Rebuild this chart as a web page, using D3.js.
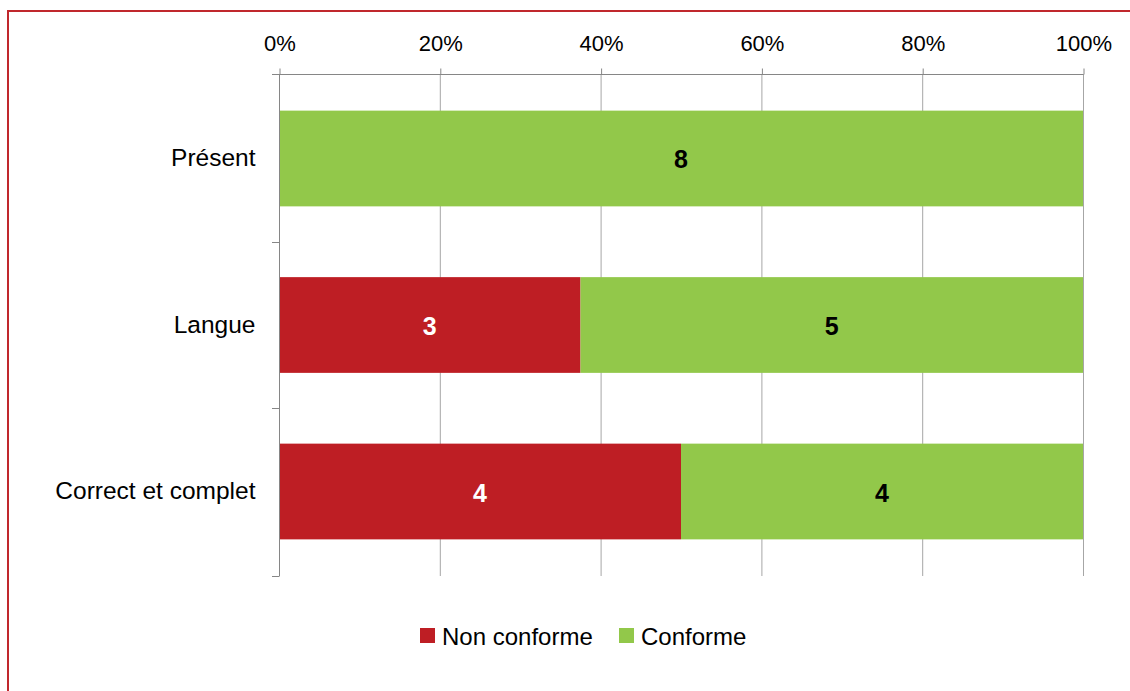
<!DOCTYPE html>
<html><head><meta charset="utf-8">
<script src="https://cdn.jsdelivr.net/npm/d3@7"></script>
<style>body{margin:0;background:#fff;}svg{display:block;}</style>
</head><body>
<script>
const categories = ["Présent", "Langue", "Correct et complet"];
const seriesNames = ["Non conforme", "Conforme"];
const nonConforme = [0, 3, 4];
const conforme = [8, 5, 4];
const tickValues = [0, 0.2, 0.4, 0.6, 0.8, 1.0];
const colors = ["#BE1E24", "#92C84A"];
const labelColors = ["#ffffff", "#000000"];

(function () {
const W = 1130, H = 691;
const svg = d3.select("body").append("svg").attr("width", W).attr("height", H);
const font = "'Liberation Sans', Arial, sans-serif";

// frame border
svg.append("rect").attr("x", 8).attr("y", 11).attr("width", W).attr("height", H)
  .attr("fill", "none").attr("stroke", "#C0282D").attr("stroke-width", 2);

const pLeft = 279, pRight = 1083, pTop = 74, pBottom = 576;
const x = d3.scaleLinear().domain([0, 1]).range([pLeft, pRight]);
const y = d3.scaleBand().domain(categories).range([pTop, pBottom]).paddingInner(0.425).paddingOuter(0.22);

const data = categories.map((c, i) => ({cat: c, "Non conforme": nonConforme[i], "Conforme": conforme[i]}));
const stack = d3.stack().keys(seriesNames).offset(d3.stackOffsetExpand);
const series = stack(data);

// gridlines
svg.append("g").selectAll("line").data(tickValues.slice(1)).join("line")
  .attr("x1", d => x(d) + 0.5).attr("x2", d => x(d) + 0.5)
  .attr("y1", pTop).attr("y2", pBottom)
  .attr("stroke", "#A6A6A6").attr("stroke-width", 1);

// bars
series.forEach((s, si) => {
  const g = svg.append("g");
  g.selectAll("rect").data(s).join("rect")
    .attr("x", d => x(d[0])).attr("width", d => x(d[1]) - x(d[0]))
    .attr("y", d => y(d.data.cat)).attr("height", y.bandwidth())
    .attr("fill", colors[si]);
  g.selectAll("text").data(s.filter(d => d.data[s.key] > 0)).join("text")
    .attr("x", d => (x(d[0]) + x(d[1])) / 2)
    .attr("y", d => y(d.data.cat) + y.bandwidth() / 2 + 1)
    .attr("text-anchor", "middle").attr("dominant-baseline", "central")
    .attr("font-family", font).attr("font-weight", "bold").attr("font-size", 25)
    .attr("fill", labelColors[si])
    .text(d => d.data[s.key]);
});

// top axis
const xAxis = d3.axisTop(x).tickValues(tickValues).tickFormat(d3.format(".0%")).tickSize(6).tickPadding(18);
const gx = svg.append("g").attr("transform", `translate(0.5,${pTop + 0.5})`).call(xAxis);
gx.select(".domain").attr("stroke", "#868686").attr("d", `M${pLeft},0H${pRight}`);
gx.selectAll(".tick line").attr("stroke", "#868686");
gx.selectAll(".tick text").attr("font-family", font).attr("font-size", 22).attr("fill", "#000");

// left axis
const yAxis = d3.axisLeft(y).tickSize(0).tickPadding(24);
const gy = svg.append("g").attr("transform", `translate(${pLeft + 0.5},0)`).call(yAxis);
gy.select(".domain").attr("stroke", "#868686").attr("d", `M0,${pTop}V${pBottom}`);
gy.selectAll(".tick text").attr("font-family", font).attr("font-size", 24.5).attr("fill", "#000");
// category boundary ticks
const bounds = categories.map(c => y(c) - y.step() * y.paddingInner() / 2).concat([pBottom]);
bounds[0] = pTop;
svg.append("g").selectAll("line").data(bounds).join("line")
  .attr("x1", pLeft - 7).attr("x2", pLeft + 0.5)
  .attr("y1", d => Math.round(d) + 0.5).attr("y2", d => Math.round(d) + 0.5)
  .attr("stroke", "#868686");

// legend
const legend = svg.append("g");
const legendX = [420, 619];
seriesNames.forEach((n, i) => {
  legend.append("rect").attr("x", legendX[i]).attr("y", 628).attr("width", 15).attr("height", 15).attr("fill", colors[i]);
  legend.append("text").attr("x", legendX[i] + 22).attr("y", 636)
    .attr("dominant-baseline", "central").attr("font-family", font).attr("font-size", 24)
    .attr("fill", "#000").text(n);
});
})();
</script>
</body></html>
